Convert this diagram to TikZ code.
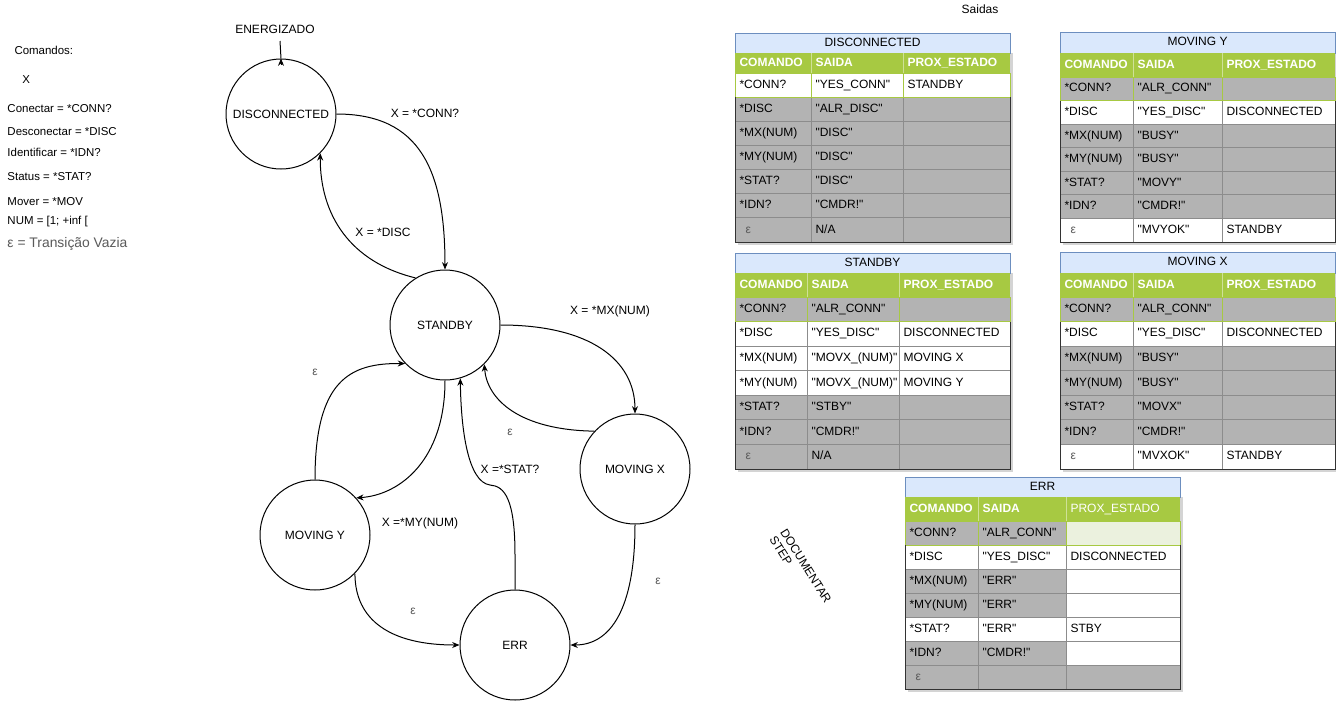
\documentclass[tikz,border=0pt]{standalone}
\usepackage{fontspec}
\setmainfont{Liberation Sans}
\usetikzlibrary{arrows.meta}
\definecolor{gcell}{HTML}{B3B3B3}
\definecolor{greenc}{HTML}{A7C942}
\definecolor{errlg}{HTML}{EBF1DE}
\definecolor{titlefill}{HTML}{DAE8FC}
\definecolor{titlebd}{HTML}{6C8EBF}
\definecolor{gridc}{HTML}{8C8C8C}
\definecolor{outerc}{HTML}{333333}
\definecolor{shadowc}{HTML}{D4D4D4}
\definecolor{epsc}{HTML}{5A5A5A}
\newcommand\dq{\XeTeXglyph\XeTeXcharglyph34\relax}
\newcommand\epscell{\hspace*{4.5pt}\textcolor{epsc}{ε}}
\newcommand\tblgeo[8]{\def\Tx{#1}\def\Ta{#2}\def\Tb{#3}\def\Tc{#4}\def\Tyt{#5}\def\Tyh{#6}\def\Tyr{#7}\def\Tye{#8}\pgfmathsetmacro\Trh{(#8-#7)/7}}
\newcommand\tbltitle[1]{%
  \fill[shadowc] (\Tx+3,\Tyh) rectangle (\Tc+3,\Tye+3);
  \draw[fill=titlefill,draw=titlebd] (\Tx,\Tyt) rectangle (\Tc,\Tyh);
  \node[celltxt] at ({(\Tx+\Tc)/2},{(\Tyt+\Tyh)/2}) {#1};}
\newcommand\tblhead[1][\bfseries]{%
  \fill[greenc] (\Tx,\Tyh) rectangle (\Tc,\Tyr);
  \draw[draw=greenc!55!white] (\Ta,\Tyh) -- (\Ta,\Tyr) (\Tb,\Tyh) -- (\Tb,\Tyr);
  \node[celltxt,anchor=west,text=white] at (\Tx+4,{(\Tyh+\Tyr)/2}) {\bfseries COMANDO};
  \node[celltxt,anchor=west,text=white] at (\Ta+4,{(\Tyh+\Tyr)/2}) {\bfseries SAIDA};
  \node[celltxt,anchor=west,text=white] at (\Tb+4,{(\Tyh+\Tyr)/2}) {#1PROX\_ESTADO};}
\newcommand\tblrow[8]{%
  \pgfmathsetmacro\Ra{\Tyr+#1*\Trh}\pgfmathsetmacro\Rb{\Tyr+(#1+1)*\Trh}%
  \draw[fill=#2,draw=#8] (\Tx,\Ra) rectangle (\Ta,\Rb);
  \draw[fill=#3,draw=#8] (\Ta,\Ra) rectangle (\Tb,\Rb);
  \draw[fill=#4,draw=#8] (\Tb,\Ra) rectangle (\Tc,\Rb);
  \node[celltxt,anchor=west] at (\Tx+4,{(\Ra+\Rb)/2}) {#5};
  \node[celltxt,anchor=west] at (\Ta+4,{(\Ra+\Rb)/2}) {#6};
  \node[celltxt,anchor=west] at (\Tb+4,{(\Ra+\Rb)/2}) {#7};}
\newcommand\tblframe{\draw[outerc] (\Tx,\Tyr+\Trh) -- (\Tx,\Tye) -- (\Tc,\Tye) -- (\Tc,\Tyr+\Trh);}
\begin{document}
\begin{tikzpicture}[x=0.75pt,y=-0.75pt,line width=0.75pt,
  every node/.style={font=\fontsize{9}{11}\selectfont,inner sep=0pt},
  celltxt/.style={text height=6.6pt,text depth=1.9pt},
  state/.style={circle,draw=black,line width=0.75pt,minimum size=82.5pt,inner sep=0pt},
  edge/.style={draw=black,line width=0.75pt,-{Stealth[length=5.5pt,width=4.5pt]}},
  eps/.style={text=epsc},
  leftt/.style={anchor=west,font=\fontsize{8.6}{10}\selectfont}]
\fill[white] (0,0) rectangle (1336,701);
\useasboundingbox (0,0) rectangle (1336,701);
% left legend
\node[leftt] (cmd) at (14,50) {Comandos:};
\node[leftt] (cx) at (22,80) {X};
\node[leftt] (c1) at (7,109) {Conectar = *CONN?};
\node[leftt] (c2) at (7,132) {Desconectar = *DISC};
\node[leftt] (c3) at (7,152) {Identificar = *IDN?};
\node[leftt] (c4) at (7,177) {Status = *STAT?};
\node[leftt] (c5) at (7,202) {Mover = *MOV};
\node[leftt] (c6) at (7,222) {NUM = [1; +inf [};
\node[leftt,eps,font=\fontsize{10.4}{12}\selectfont] (c7) at (7,244) {ε = Transição Vazia};
% states
\node[state] (disc) at (281,114) {DISCONNECTED};
\node[state] (stby) at (445,325) {STANDBY};
\node[state] (movx) at (635,469) {MOVING X};
\node[state] (movy) at (315,535) {MOVING Y};
\node[state] (err) at (515,645) {ERR};
% energizado
\node (ener) at (275,29) {ENERGIZADO};
\coordinate (etop) at (280,41);
\draw (etop) -- (disc.north);
\draw[edge] ([yshift=-5pt]disc.north) -- (disc.north);
% edges
\draw[edge] (disc.east) .. controls (420,114) and (445,170) .. (stby.north);
\node (l1) at (425,113) {X = *CONN?};
\draw[edge] (stby.122) .. controls (350,262) and (320,215) .. (disc.-45);
\node (l2) at (383,232) {X = *DISC};
\draw[edge] (stby.east) .. controls (590,325) and (635,360) .. (movx.north);
\node (l3) at (610,311) {X = *MX(NUM)};
\draw[edge] (movx.137) .. controls (520,430) and (487,400) .. (stby.-45);
\node[eps] (l4) at (510,432) {ε};
\draw[edge] (stby.south) .. controls (445,460) and (400,495) .. (movy.42);
\node (l5) at (420,523) {X =*MY(NUM)};
\draw[edge] (movy.north) .. controls (315,380) and (350,363) .. (stby.224);
\node[eps] (l6) at (315,372) {ε};
\coordinate (w1) at (515,555);
\coordinate (w2) at (490,485);
\draw[edge] (err.north) -- (w1) .. controls (515,500) and (505,486) .. (w2) .. controls (468,482) and (461,430) .. (stby.-74);
\node (l7) at (510,469) {X =*STAT?};
\draw[edge] (movy.-44) .. controls (355,620) and (390,645) .. (err.west);
\node[eps] (l8) at (413,611) {ε};
\draw[edge] (movx.south) .. controls (635,610) and (610,645) .. (err.east);
\node[eps] (l9) at (658,581) {ε};
% other texts
\node (said) at (980,9) {Saidas};
\node[rotate=-58] (doc1) at (806,566) {DOCUMENTAR};
\node[rotate=-58] (doc2) at (781,551) {STEP};
% DISCONNECTED table
\tblgeo{735}{811}{903}{1010}{33}{53}{73}{242}
\tbltitle{DISCONNECTED}
\tblhead
\tblrow{1}{gcell}{gcell}{gcell}{*DISC}{\dq ALR\_DISC\dq}{}{gridc}
\tblrow{2}{gcell}{gcell}{gcell}{*MX(NUM)}{\dq DISC\dq}{}{gridc}
\tblrow{3}{gcell}{gcell}{gcell}{*MY(NUM)}{\dq DISC\dq}{}{gridc}
\tblrow{4}{gcell}{gcell}{gcell}{*STAT?}{\dq DISC\dq}{}{gridc}
\tblrow{5}{gcell}{gcell}{gcell}{*IDN?}{\dq CMDR!\dq}{}{gridc}
\tblrow{6}{gcell}{gcell}{gcell}{\epscell}{N/A}{}{gridc}
\tblrow{0}{white}{white}{white}{*CONN?}{\dq YES\_CONN\dq}{STANDBY}{greenc}
\tblframe
% MOVING Y table
\tblgeo{1060}{1133}{1222}{1335}{32}{53}{77}{242}
\tbltitle{MOVING Y}
\tblhead
\tblrow{1}{white}{white}{white}{*DISC}{\dq YES\_DISC\dq}{DISCONNECTED}{gridc}
\tblrow{2}{gcell}{gcell}{gcell}{*MX(NUM)}{\dq BUSY\dq}{}{gridc}
\tblrow{3}{gcell}{gcell}{gcell}{*MY(NUM)}{\dq BUSY\dq}{}{gridc}
\tblrow{4}{gcell}{gcell}{gcell}{*STAT?}{\dq MOVY\dq}{}{gridc}
\tblrow{5}{gcell}{gcell}{gcell}{*IDN?}{\dq CMDR!\dq}{}{gridc}
\tblrow{6}{white}{white}{white}{\epscell}{\dq MVYOK\dq}{STANDBY}{gridc}
\tblrow{0}{gcell}{gcell}{gcell}{*CONN?}{\dq ALR\_CONN\dq}{}{greenc}
\tblframe
% STANDBY table
\tblgeo{735}{807}{899}{1010}{253}{273}{297}{469}
\tbltitle{STANDBY}
\tblhead
\tblrow{1}{white}{white}{white}{*DISC}{\dq YES\_DISC\dq}{DISCONNECTED}{gridc}
\tblrow{2}{white}{white}{white}{*MX(NUM)}{\dq MOVX\_(NUM)\dq}{MOVING X}{gridc}
\tblrow{3}{white}{white}{white}{*MY(NUM)}{\dq MOVX\_(NUM)\dq}{MOVING Y}{gridc}
\tblrow{4}{gcell}{gcell}{gcell}{*STAT?}{\dq STBY\dq}{}{gridc}
\tblrow{5}{gcell}{gcell}{gcell}{*IDN?}{\dq CMDR!\dq}{}{gridc}
\tblrow{6}{gcell}{gcell}{gcell}{\epscell}{N/A}{}{gridc}
\tblrow{0}{gcell}{gcell}{gcell}{*CONN?}{\dq ALR\_CONN\dq}{}{greenc}
\tblframe
% MOVING X table
\tblgeo{1060}{1133}{1222}{1335}{252}{273}{297}{469}
\tbltitle{MOVING X}
\tblhead
\tblrow{1}{white}{white}{white}{*DISC}{\dq YES\_DISC\dq}{DISCONNECTED}{gridc}
\tblrow{2}{gcell}{gcell}{gcell}{*MX(NUM)}{\dq BUSY\dq}{}{gridc}
\tblrow{3}{gcell}{gcell}{gcell}{*MY(NUM)}{\dq BUSY\dq}{}{gridc}
\tblrow{4}{gcell}{gcell}{gcell}{*STAT?}{\dq MOVX\dq}{}{gridc}
\tblrow{5}{gcell}{gcell}{gcell}{*IDN?}{\dq CMDR!\dq}{}{gridc}
\tblrow{6}{white}{white}{white}{\epscell}{\dq MVXOK\dq}{STANDBY}{gridc}
\tblrow{0}{gcell}{gcell}{gcell}{*CONN?}{\dq ALR\_CONN\dq}{}{greenc}
\tblframe
% ERR table
\tblgeo{905}{978}{1066}{1180}{477}{497}{521}{689}
\tbltitle{ERR}
\tblhead[\mdseries]
\tblrow{1}{white}{white}{white}{*DISC}{\dq YES\_DISC\dq}{DISCONNECTED}{gridc}
\tblrow{2}{gcell}{gcell}{white}{*MX(NUM)}{\dq ERR\dq}{}{gridc}
\tblrow{3}{gcell}{gcell}{white}{*MY(NUM)}{\dq ERR\dq}{}{gridc}
\tblrow{4}{white}{white}{white}{*STAT?}{\dq ERR\dq}{STBY}{gridc}
\tblrow{5}{gcell}{gcell}{white}{*IDN?}{\dq CMDR!\dq}{}{gridc}
\tblrow{6}{gcell}{gcell}{gcell}{\epscell}{}{}{gridc}
\tblrow{0}{gcell}{gcell}{errlg}{*CONN?}{\dq ALR\_CONN\dq}{}{greenc}
\tblframe
\end{tikzpicture}
\end{document}
